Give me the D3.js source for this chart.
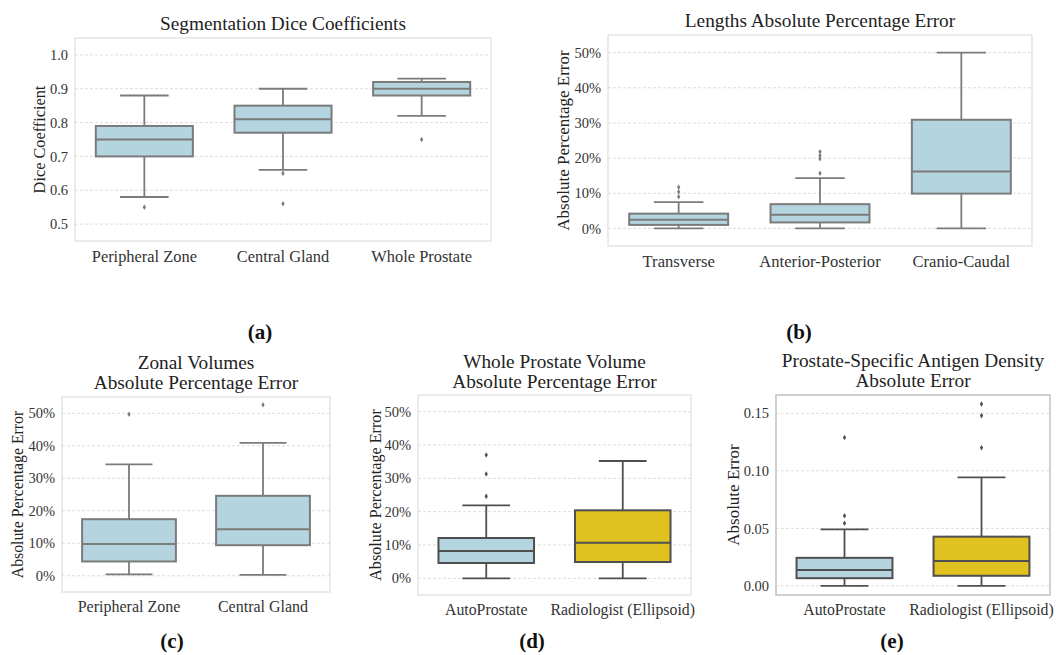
<!DOCTYPE html>
<html>
<head>
<meta charset="utf-8">
<script src="https://cdn.jsdelivr.net/npm/d3@7/dist/d3.min.js"></script>
<style>
  html, body { margin: 0; padding: 0; background: #fff; }
  svg { display: block; font-family: "Liberation Serif", "DejaVu Serif", serif; }
</style>
</head>
<body>
<div id="chart"></div>
<script>
// ---- data: [whisker low, Q1, median, Q3, whisker high] ----
const diceCats = ['Peripheral Zone', 'Central Gland', 'Whole Prostate'];
const diceStats = [[0.58, 0.70, 0.75, 0.79, 0.88], [0.66, 0.77, 0.81, 0.85, 0.90], [0.82, 0.88, 0.90, 0.92, 0.93]];
const diceOutliers = [[0.55], [0.65, 0.56], [0.75]];
const diceTicks = [0.5, 0.6, 0.7, 0.8, 0.9, 1.0];

const lengthCats = ['Transverse', 'Anterior-Posterior', 'Cranio-Caudal'];
const lengthStats = [[0, 1.0, 2.5, 4.2, 7.5], [0, 1.7, 3.9, 6.9, 14.3], [0, 9.9, 16.2, 30.9, 50]];
const lengthOutliers = [[9.0, 10.4, 11.7], [15.7, 19.8, 20.7, 21.8], []];
const pctTicks = [0, 10, 20, 30, 40, 50];

const zonalCats = ['Peripheral Zone', 'Central Gland'];
const zonalStats = [[0.4, 4.4, 9.8, 17.4, 34.3], [0.3, 9.4, 14.3, 24.6, 40.9]];
const zonalOutliers = [[49.7], [52.6]];

const methodCats = ['AutoProstate', 'Radiologist (Ellipsoid)'];
const volumeStats = [[0, 4.6, 8.2, 12.1, 21.9], [0, 4.9, 10.7, 20.4, 35.2]];
const volumeOutliers = [[24.6, 31.3, 37.0], []];

const psadStats = [[0, 0.0067, 0.0139, 0.0244, 0.0492], [0, 0.0088, 0.0217, 0.0428, 0.0944]];
const psadOutliers = [[0.0544, 0.0610, 0.129], [0.120, 0.148, 0.158]];
const psadTicks = [0, 0.05, 0.10, 0.15];

// ---- styling ----
const BLUE = '#b4d4df';
const GOLD = '#dfc120';
const pct = d => d + '%';

const svg = d3.select('#chart').append('svg')
  .attr('width', 1056)
  .attr('height', 655);

function boxPanel(p) {
  const g = svg.append('g');
  const x = d3.scaleBand().domain(p.cats).range([p.x0, p.x1]);
  const y = d3.scaleLinear().domain(p.domain).range([p.y1, p.y0]);
  const bw = x.bandwidth() * 0.7;
  const cw = bw / 2;

  // grid
  g.selectAll('.grid').data(p.ticks).enter().append('line')
    .attr('x1', p.x0).attr('x2', p.x1)
    .attr('y1', d => y(d)).attr('y2', d => y(d))
    .attr('stroke', '#d4d4d4').attr('stroke-width', 0.8)
    .attr('stroke-dasharray', '3,2');

  // frame
  g.append('rect')
    .attr('x', p.x0).attr('y', p.y0)
    .attr('width', p.x1 - p.x0).attr('height', p.y1 - p.y0)
    .attr('fill', 'none').attr('stroke', p.frame || '#dedede')
    .attr('stroke-width', p.frameW || 1.2);

  // y axis labels
  const yAxis = d3.axisLeft(y).tickValues(p.ticks).tickSize(0).tickPadding(7).tickFormat(p.fmt);
  const ya = g.append('g').attr('transform', `translate(${p.x0},0)`).call(yAxis);
  ya.select('.domain').remove();
  ya.selectAll('text').attr('fill', '#333').style('font-size', '14.5px')
    .style('font-family', '"Liberation Serif", serif');

  // x axis labels
  const xAxis = d3.axisBottom(x).tickSize(0).tickPadding(9);
  const xa = g.append('g').attr('transform', `translate(0,${p.y1})`).call(xAxis);
  xa.select('.domain').remove();
  xa.selectAll('text').attr('fill', '#333').style('font-size', p.xSize)
    .style('font-family', '"Liberation Serif", serif');

  const boxes = g.selectAll('.box').data(p.stats).enter().append('g');
  const cx = (d, i) => x(p.cats[i]) + x.bandwidth() / 2;

  // whiskers
  boxes.append('line')
    .attr('x1', cx).attr('x2', cx)
    .attr('y1', d => y(d[0])).attr('y2', d => y(d[1]))
    .attr('stroke', p.line).attr('stroke-width', 1.8);
  boxes.append('line')
    .attr('x1', cx).attr('x2', cx)
    .attr('y1', d => y(d[3])).attr('y2', d => y(d[4]))
    .attr('stroke', p.line).attr('stroke-width', 1.8);
  // caps
  boxes.selectAll('.cap').data(d => [d[0], d[4]]).enter().append('line')
    .attr('stroke', p.line).attr('stroke-width', 1.8);
  boxes.each(function (d, i) {
    const c = cx(d, i);
    d3.select(this).selectAll('line').filter((v, j) => j >= 2)
      .attr('x1', c - cw / 2).attr('x2', c + cw / 2)
      .attr('y1', v => y(v)).attr('y2', v => y(v));
  });
  // box
  boxes.append('rect')
    .attr('x', (d, i) => cx(d, i) - bw / 2)
    .attr('width', bw)
    .attr('y', d => y(d[3]))
    .attr('height', d => y(d[1]) - y(d[3]))
    .attr('fill', (d, i) => p.fills[i])
    .attr('stroke', p.line).attr('stroke-width', 2);
  // median
  boxes.append('line')
    .attr('x1', (d, i) => cx(d, i) - bw / 2).attr('x2', (d, i) => cx(d, i) + bw / 2)
    .attr('y1', d => y(d[2])).attr('y2', d => y(d[2]))
    .attr('stroke', p.line).attr('stroke-width', 2);

  // outliers
  const diamond = d3.symbol().type(d3.symbolDiamond).size(9);
  p.outliers.forEach((arr, i) => {
    const c = x(p.cats[i]) + x.bandwidth() / 2;
    g.selectAll(null).data(arr).enter().append('path')
      .attr('d', diamond)
      .attr('transform', v => `translate(${c},${y(v)})`)
      .attr('fill', p.line);
  });

  // title
  const tcx = (p.x0 + p.x1) / 2;
  p.title.forEach((t, i) => {
    g.append('text')
      .attr('x', tcx).attr('y', p.titleY + i * 20)
      .attr('text-anchor', 'middle')
      .attr('fill', '#222').style('font-size', '19.3px')
      .text(t);
  });

  // y label
  g.append('text')
    .attr('transform', `translate(${p.ylabX},${(p.y0 + p.y1) / 2}) rotate(-90)`)
    .attr('text-anchor', 'middle').attr('dy', '0.35em')
    .attr('fill', '#222').style('font-size', p.ylabSize)
    .text(p.ylab);

  // panel caption
  g.append('text')
    .attr('x', p.capX).attr('y', p.capY)
    .attr('text-anchor', 'middle')
    .attr('fill', '#111').style('font-size', '21px').style('font-weight', 'bold')
    .text(p.cap);
}

boxPanel({
  cats: diceCats, stats: diceStats, outliers: diceOutliers, ticks: diceTicks,
  domain: [0.45, 1.05], fmt: d3.format('.1f'),
  x0: 75, x1: 491, y0: 38, y1: 241,
  fills: [BLUE, BLUE, BLUE], line: '#7b7b7b', xSize: '16.4px',
  title: ['Segmentation Dice Coefficients'], titleY: 30,
  ylab: 'Dice Coefficient', ylabX: 39, ylabSize: '16.3px', cap: '(a)', capX: 260, capY: 339
});

boxPanel({
  cats: lengthCats, stats: lengthStats, outliers: lengthOutliers, ticks: pctTicks,
  domain: [-5, 55], fmt: pct,
  x0: 608, x1: 1032, y0: 35, y1: 246,
  fills: [BLUE, BLUE, BLUE], line: '#7b7b7b', xSize: '16.6px',
  title: ['Lengths Absolute Percentage Error'], titleY: 27,
  ylab: 'Absolute Percentage Error', ylabX: 563, ylabSize: '17px', cap: '(b)', capX: 799, capY: 339
});

boxPanel({
  cats: zonalCats, stats: zonalStats, outliers: zonalOutliers, ticks: pctTicks,
  domain: [-5, 55], fmt: pct,
  x0: 62, x1: 330, y0: 397, y1: 592,
  fills: [BLUE, BLUE], line: '#7b7b7b', xSize: '16px',
  title: ['Zonal Volumes', 'Absolute Percentage Error'], titleY: 369,
  ylab: 'Absolute Percentage Error', ylabX: 17, ylabSize: '15.8px', cap: '(c)', capX: 172, capY: 648
});

boxPanel({
  cats: methodCats, stats: volumeStats, outliers: volumeOutliers, ticks: pctTicks,
  domain: [-5, 55], fmt: pct,
  x0: 418, x1: 691, y0: 395, y1: 595,
  fills: [BLUE, GOLD], line: '#4f4f4f', xSize: '15.8px',
  title: ['Whole Prostate Volume', 'Absolute Percentage Error'], titleY: 368,
  ylab: 'Absolute Percentage Error', ylabX: 375, ylabSize: '16.2px', cap: '(d)', capX: 532, capY: 648
});

boxPanel({
  cats: methodCats, stats: psadStats, outliers: psadOutliers, ticks: psadTicks,
  domain: [-0.0079, 0.1659], fmt: d3.format('.2f'),
  x0: 776, x1: 1050, y0: 395, y1: 595,
  fills: [BLUE, GOLD], line: '#4f4f4f', frame: '#cccccc', frameW: 1.8, xSize: '15.8px',
  title: ['Prostate-Specific Antigen Density', 'Absolute Error'], titleY: 367,
  ylab: 'Absolute Error', ylabX: 733, ylabSize: '17px', cap: '(e)', capX: 892, capY: 648
});
</script>
</body>
</html>
